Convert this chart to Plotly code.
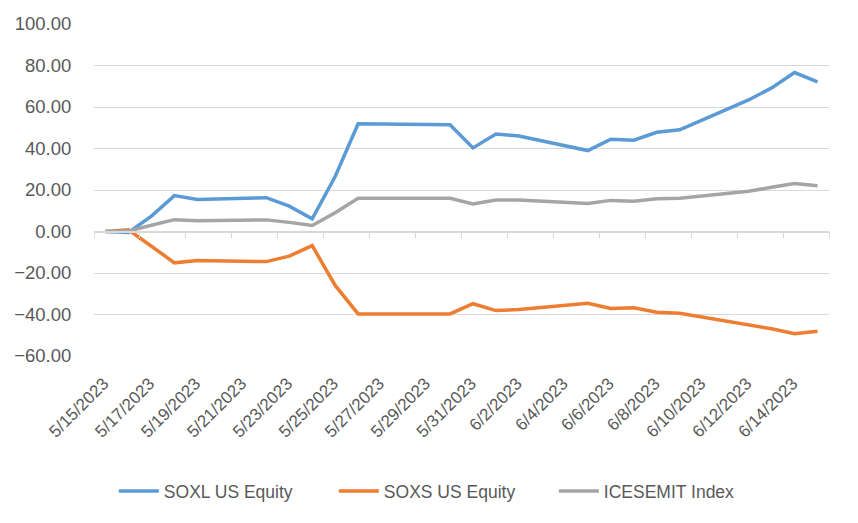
import pandas as pd
import plotly.graph_objects as go

# trading days (5/29 was a holiday)
dates = [
    "2023-05-15", "2023-05-16", "2023-05-17", "2023-05-18", "2023-05-19",
    "2023-05-22", "2023-05-23", "2023-05-24", "2023-05-25", "2023-05-26",
    "2023-05-30", "2023-05-31", "2023-06-01", "2023-06-02",
    "2023-06-05", "2023-06-06", "2023-06-07", "2023-06-08", "2023-06-09",
    "2023-06-12", "2023-06-13", "2023-06-14", "2023-06-15",
]

soxl = [0.0, -0.5, 7.4, 17.3, 15.4, 16.3, 12.2, 6.1, 26.5, 51.9,
        51.4, 40.3, 47.0, 46.0, 39.0, 44.5, 44.0, 47.8, 49.0,
        63.4, 69.2, 76.6, 72.1]
soxs = [0.0, 0.8, -7.1, -15.1, -14.0, -14.5, -11.9, -6.8, -26.0, -39.7,
        -39.7, -34.8, -38.1, -37.6, -34.6, -37.1, -36.8, -38.9, -39.4,
        -44.8, -46.9, -49.3, -48.1]
icesemit = [0.0, 0.2, 3.0, 5.7, 5.2, 5.6, 4.4, 2.9, 9.0, 16.0,
            16.0, 13.3, 15.2, 15.2, 13.5, 15.0, 14.6, 15.8, 16.0,
            19.4, 21.3, 23.1, 22.1]

series_names = ["SOXL US Equity", "SOXS US Equity", "ICESEMIT Index"]
series_values = [soxl, soxs, icesemit]
series_colors = ["#5B9BD5", "#ED7D31", "#A5A5A5"]

tick_dates = ["2023-05-15", "2023-05-17", "2023-05-19", "2023-05-21",
              "2023-05-23", "2023-05-25", "2023-05-27", "2023-05-29",
              "2023-05-31", "2023-06-02", "2023-06-04", "2023-06-06",
              "2023-06-08", "2023-06-10", "2023-06-12", "2023-06-14"]
tick_labels = ["5/15/2023", "5/17/2023", "5/19/2023", "5/21/2023",
               "5/23/2023", "5/25/2023", "5/27/2023", "5/29/2023",
               "5/31/2023", "6/2/2023", "6/4/2023", "6/6/2023",
               "6/8/2023", "6/10/2023", "6/12/2023", "6/14/2023"]

y_ticks = [100, 80, 60, 40, 20, 0, -20, -40, -60]

# excel date axis puts each point in the middle of its day
x_points = pd.to_datetime(dates) + pd.Timedelta(hours=12)
# rotated labels end a little right of their anchor, so nudge them left
x_ticks = pd.to_datetime(tick_dates) + pd.Timedelta(hours=10)
x_range = ["2023-05-15", "2023-06-16"]
boundaries = pd.date_range("2023-05-15", "2023-06-16", freq="2D")

text_color = "#595959"
grid_color = "#D9D9D9"
font_family = "Liberation Sans, Arial, sans-serif"

figure = go.Figure()

for name, values, color in zip(series_names, series_values, series_colors):
    figure.add_trace(
        go.Scatter(
            x=x_points,
            y=values,
            mode="lines",
            name=name,
            line=dict(color=color, width=3.5),
        )
    )

# invisible trace so the zero-line axis with boundary ticks gets drawn
figure.add_trace(
    go.Scatter(x=[x_points[0]], y=[0], xaxis="x2", mode="markers",
               marker=dict(opacity=0), showlegend=False, hoverinfo="skip")
)

# page body has an 8px default margin, so margins are shifted by that
figure.update_layout(
    width=858,
    height=523,
    margin=dict(l=86, r=37, t=16, b=175),
    paper_bgcolor="white",
    plot_bgcolor="white",
    font=dict(family=font_family, color=text_color, size=17),
    xaxis=dict(
        type="date",
        range=x_range,
        tickvals=x_ticks,
        ticktext=tick_labels,
        tickangle=-45,
        ticks="outside",
        ticklen=10,
        tickcolor="rgba(0,0,0,0)",
        showgrid=False,
        showline=False,
        zeroline=False,
        automargin=False,
        tickfont=dict(size=17, color=text_color),
    ),
    xaxis2=dict(
        type="date",
        overlaying="x",
        anchor="free",
        position=0.375,
        range=x_range,
        tickvals=boundaries,
        showticklabels=False,
        ticks="outside",
        ticklen=6,
        tickcolor=grid_color,
        showline=True,
        linecolor=grid_color,
        linewidth=1.5,
        showgrid=False,
        zeroline=False,
        automargin=False,
    ),
    yaxis=dict(
        range=[-60, 100],
        tickvals=y_ticks,
        tickformat=".2f",
        showgrid=True,
        gridcolor=grid_color,
        gridwidth=1.3,
        zeroline=False,
        showline=False,
        ticks="outside",
        ticklen=18,
        tickcolor="rgba(0,0,0,0)",
        automargin=False,
        tickfont=dict(size=18.5, color=text_color),
    ),
    legend=dict(
        orientation="h",
        x=0.027,
        xanchor="left",
        y=-0.407,
        yanchor="middle",
        font=dict(size=17.5, color=text_color),
        entrywidth=165,
        itemwidth=40,
    ),
    showlegend=True,
)

figure.write_html("out.html")
